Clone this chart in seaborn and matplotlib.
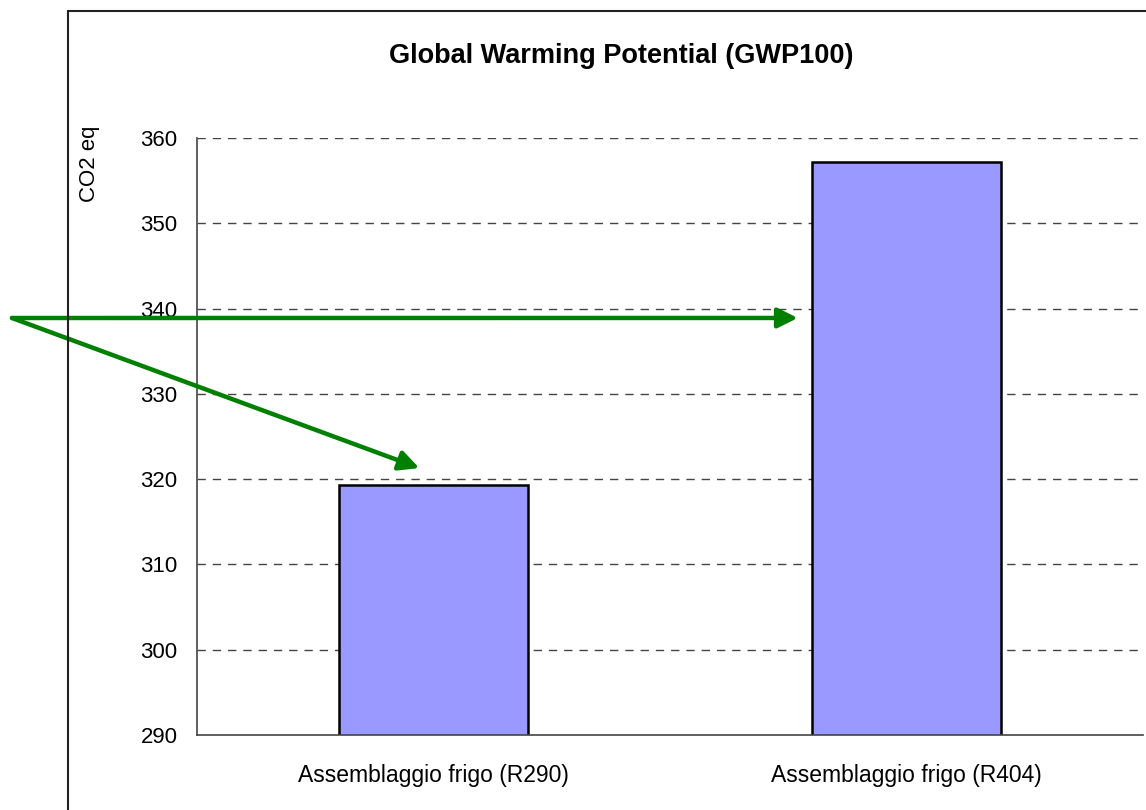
import matplotlib
matplotlib.use("Agg")
import matplotlib.pyplot as plt
from matplotlib.patches import Rectangle
import pandas as pd
import seaborn as sns

# Data
categories = ["Assemblaggio frigo (R290)", "Assemblaggio frigo (R404)"]
gwp_values = [319.3, 357.2]
y_ticks = [290, 300, 310, 320, 330, 340, 350, 360]

title_text = "Global Warming Potential (GWP100)"
y_label = "CO2 eq"

sns.set_style("white")
plt.rcParams["font.family"] = ["Liberation Sans", "DejaVu Sans"]
plt.rcParams["text.color"] = "black"
plt.rcParams["xtick.color"] = "black"
plt.rcParams["ytick.color"] = "black"

df = pd.DataFrame({"categoria": categories, "gwp": gwp_values})

fig = plt.figure(figsize=(11.46, 8.10), dpi=100)
ax = fig.add_axes([0.1719, 0.0926, 0.8255, 0.7370])

sns.barplot(data=df, x="categoria", y="gwp", ax=ax, color="#9999FF",
            saturation=1, width=0.4, edgecolor="black", linewidth=1.8,
            zorder=3)

ax.set_xlim(-0.5, 1.5)
ax.set_ylim(y_ticks[0], y_ticks[-1])
ax.set_yticks(y_ticks)
ax.set_yticklabels([str(t) for t in y_ticks], fontsize=16, color="black")
ax.set_xticks([0, 1])
ax.set_xticklabels(categories, fontsize=16.5, color="black")
ax.set_xticks([-0.5, 0.5, 1.5], minor=True)
ax.tick_params(axis="x", which="major", length=0, pad=21)
ax.tick_params(axis="x", which="minor", length=6, width=1, color="#444444",
               direction="out")
ax.tick_params(axis="y", which="major", length=7, width=1, color="#444444",
               direction="out", pad=7)
ax.set_xlabel("")
ax.set_ylabel("")

for t in y_ticks[1:]:
    ax.axhline(t, color="#444444", lw=1, ls=(0, (6, 5)), zorder=1)

for side in ("top", "right"):
    ax.spines[side].set_visible(False)
for side in ("left", "bottom"):
    ax.spines[side].set_color("#444444")
    ax.spines[side].set_linewidth(1.2)
    ax.spines[side].set_zorder(4)

fig.text(0.542, 1 - 56 / 810, title_text, ha="center", va="center",
         fontsize=19.5, fontweight="bold", color="black")
fig.text(89 / 1146, 1 - 126 / 810, y_label, rotation=90, ha="center",
         va="top", fontsize=16, color="black")

# Outer chart frame (runs off the right and bottom edges)
fig.patches.append(Rectangle((68 / 1146, -0.1), 1.2, 1.1 - 11 / 810,
                             transform=fig.transFigure, fill=False,
                             edgecolor="#222222", lw=1.5, zorder=0))

# Green arrows from a common origin at the left edge
origin = (12 / 1146, 1 - 318 / 810)
arrow_targets = [(0.77, 338.9), (-0.03, 321.3)]
for tx, ty in arrow_targets:
    ax.annotate("", xy=(tx, ty), xycoords="data", xytext=origin,
                textcoords="figure fraction", annotation_clip=False,
                arrowprops=dict(arrowstyle="-|>", color="#008000", lw=3.2,
                                mutation_scale=30, shrinkA=0, shrinkB=0),
                zorder=6)

fig.savefig("out.png", dpi=100)
